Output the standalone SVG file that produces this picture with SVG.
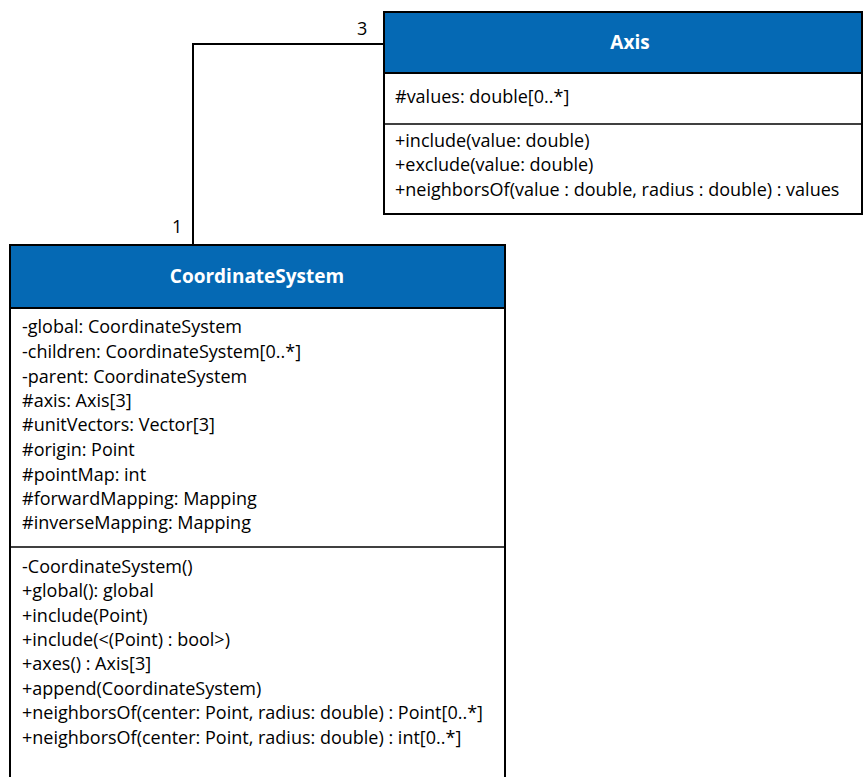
<svg xmlns="http://www.w3.org/2000/svg" width="863" height="777" viewBox="0 0 863 777">
<style>
.box{fill:#fff;stroke:#000;stroke-width:2}
.hdr{fill:#0569b4;stroke:#000;stroke-width:2}
.div{stroke:#000;stroke-width:1.5}
.t{font-family:"Open Sans","Liberation Sans",sans-serif;font-size:18px;fill:#000}
.h{font-family:"Open Sans","Liberation Sans",sans-serif;font-size:19px;font-weight:bold;fill:#fff;text-anchor:middle}
.conn{fill:none;stroke:#000;stroke-width:2}
</style>
<rect width="863" height="777" fill="#fff"/>
<g id="connectors">
<polyline class="conn" points="384,44 193,44 193,245"/>
<text class="t" x="357" y="35">3</text>
<text class="t" x="172" y="233">1</text>
</g>
<g id="axis">
<rect class="box" x="384" y="12" width="478" height="202"/>
<rect class="hdr" x="384" y="12" width="478" height="61"/>
<line class="div" x1="384" y1="124" x2="862" y2="124"/>
<text class="h" x="630" y="49">Axis</text>
<text class="t" x="395" y="103">#values: double[0..*]</text>
<text class="t" x="395" y="147">+include(value: double)</text>
<text class="t" x="395" y="171">+exclude(value: double)</text>
<text class="t" x="395" y="196">+neighborsOf(value : double, radius : double) : values</text>
</g>
<g id="coordinateSystem">
<rect class="box" x="10" y="245" width="495" height="540"/>
<rect class="hdr" x="10" y="245" width="495" height="63"/>
<line class="div" x1="10" y1="547" x2="505" y2="547"/>
<text class="h" x="257" y="283">CoordinateSystem</text>
<text class="t" x="22" y="333">-global: CoordinateSystem</text>
<text class="t" x="22" y="358">-children: CoordinateSystem[0..*]</text>
<text class="t" x="22" y="383">-parent: CoordinateSystem</text>
<text class="t" x="22" y="407">#axis: Axis[3]</text>
<text class="t" x="22" y="431">#unitVectors: Vector[3]</text>
<text class="t" x="22" y="456">#origin: Point</text>
<text class="t" x="22" y="481">#pointMap: int</text>
<text class="t" x="22" y="505">#forwardMapping: Mapping</text>
<text class="t" x="22" y="529">#inverseMapping: Mapping</text>
<text class="t" x="22" y="573">-CoordinateSystem()</text>
<text class="t" x="22" y="597">+global(): global</text>
<text class="t" x="22" y="622">+include(Point)</text>
<text class="t" x="22" y="646">+include(&lt;(Point) : bool&gt;)</text>
<text class="t" x="22" y="670">+axes() : Axis[3]</text>
<text class="t" x="22" y="695">+append(CoordinateSystem)</text>
<text class="t" x="22" y="719">+neighborsOf(center: Point, radius: double) : Point[0..*]</text>
<text class="t" x="22" y="744">+neighborsOf(center: Point, radius: double) : int[0..*]</text>
</g>
</svg>
